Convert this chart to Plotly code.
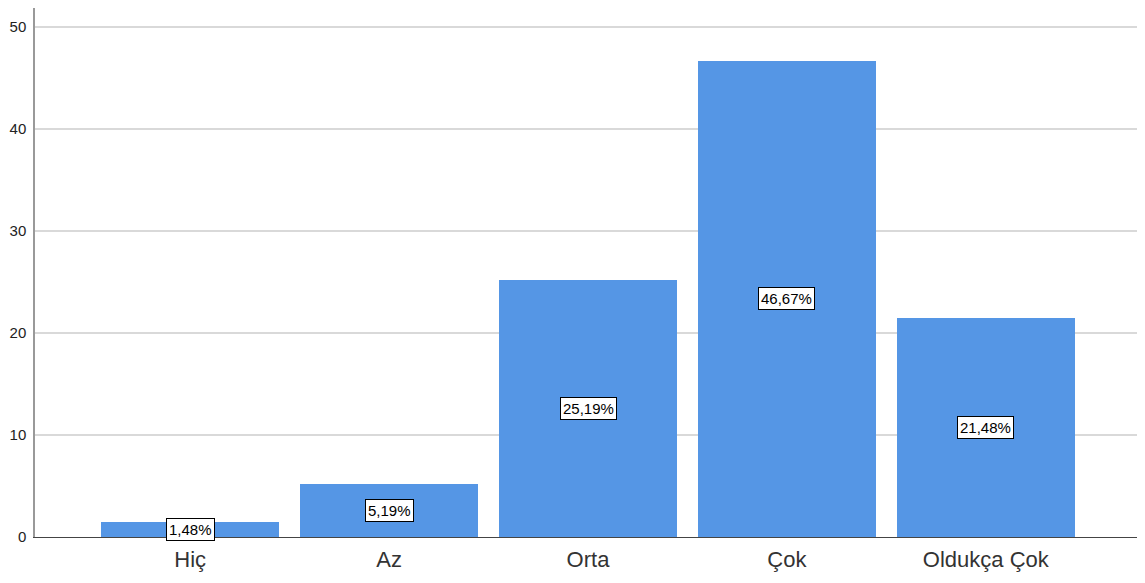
import plotly.graph_objects as go

categories = ["Hiç", "Az", "Orta", "Çok", "Oldukça Çok"]
percentages = [1.48, 5.19, 25.19, 46.67, 21.48]
y_ticks = [0, 10, 20, 30, 40, 50]

labels = [f"{v:.2f}".replace(".", ",") + "%" for v in percentages]

fig = go.Figure()
fig.add_trace(go.Bar(
    x=list(range(len(categories))),
    y=percentages,
    width=0.895,
    marker=dict(color="#5596e5", line=dict(width=0)),
    hoverinfo="skip",
))

for i, (v, t) in enumerate(zip(percentages, labels)):
    fig.add_annotation(
        x=i, y=v / 2, text=t, showarrow=False,
        font=dict(family="Arial, Liberation Sans, sans-serif", size=15, color="#000000"),
        bgcolor="#ffffff", bordercolor="#000000", borderwidth=1, borderpad=2,
    )

fig.update_layout(
    width=1137, height=575,
    margin=dict(l=27, r=4, t=0, b=46, autoexpand=False),
    paper_bgcolor="#ffffff", plot_bgcolor="#ffffff",
    showlegend=False,
    bargap=0,
)
fig.update_xaxes(
    range=[-0.78, 4.78], automargin=False,
    tickmode="array", tickvals=list(range(len(categories))), ticktext=categories,
    tickfont=dict(family="Arial, Liberation Sans, sans-serif", size=22, color="#333333"),
    showgrid=False, zeroline=False,
    showline=True, linecolor="#444444", linewidth=1,
    ticks="outside", ticklen=3, tickcolor="rgba(0,0,0,0)",
)
fig.update_yaxes(
    range=[0, 51.86], automargin=False,
    tickmode="array", tickvals=y_ticks,
    tickfont=dict(family="Arial, Liberation Sans, sans-serif", size=15, color="#222222"),
    showgrid=True, gridcolor="#d9d9d9", gridwidth=1.5,
    zeroline=False,
    showline=True, linecolor="#999999", linewidth=1.5,
    ticks="outside", ticklen=4, tickcolor="rgba(0,0,0,0)",
)

fig.write_html("out.html")
